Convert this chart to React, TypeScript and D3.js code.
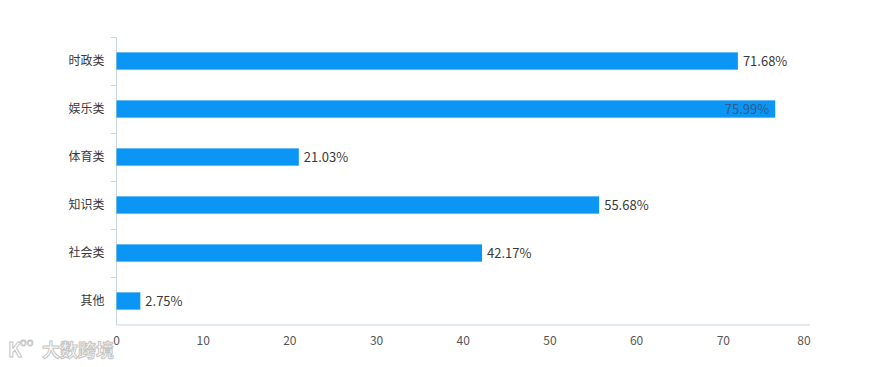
import React from 'react';
import * as d3 from 'd3';

// chart size
const svgWidth = 879;
const svgHeight = 367;
const margin = { top: 37, right: 69, bottom: 42, left: 116.5 };
const barColor = '#0b96f5';
const axisColor = '#c9d7e0';
const textColor = '#3a3a3a';
const font = '"Noto Sans CJK SC", "Noto Sans", sans-serif';

// data
const categories = ['时政类', '娱乐类', '体育类', '知识类', '社会类', '其他'];
const values = [71.68, 75.99, 21.03, 55.68, 42.17, 2.75];
const xTicks = [0, 10, 20, 30, 40, 50, 60, 70, 80];

export default function App() {
  const innerW = svgWidth - margin.left - margin.right;
  const innerH = svgHeight - margin.top - margin.bottom;

  const xScale = d3.scaleLinear().domain([0, 80]).range([0, innerW]);
  const yScale = d3.scaleBand().domain(categories).range([0, innerH]).paddingInner(0.64).paddingOuter(0.32);
  const band = d3.scaleBand().domain(categories).range([0, innerH]);

  return (
    <svg width={svgWidth} height={svgHeight} style={{ position: 'absolute', left: 0, top: 0 }} fontFamily={font}>
      <rect width={svgWidth} height={svgHeight} fill="#fff" />
      <g transform={`translate(${margin.left},${margin.top})`}>
        {/* y axis */}
        <line x1={0} x2={0} y1={0} y2={innerH} stroke={axisColor} />
        {categories.map((c, i) => (
          <line key={'t' + i} x1={-6} x2={0} y1={band(c)! + 0.5} y2={band(c)! + 0.5} stroke={axisColor} />
        ))}
        {/* x axis */}
        <line x1={0} x2={innerW} y1={innerH} y2={innerH} stroke={axisColor} />
        {xTicks.map((t, i) => (
          <text
            key={'x' + i}
            x={i === xTicks.length - 1 ? xScale(t) - 6 : xScale(t)}
            y={innerH + 20}
            textAnchor="middle"
            fontSize={12}
            fill="#555"
          >
            {t}
          </text>
        ))}
        {/* bars */}
        {categories.map((c, i) => {
          const v = values[i];
          const y = yScale(c)!;
          const h = yScale.bandwidth();
          const w = xScale(v);
          const inside = v > 75;
          return (
            <g key={c}>
              <text x={-12} y={band(c)! + band.bandwidth() / 2 + 4} textAnchor="end" fontSize={12} fill={textColor}>
                {c}
              </text>
              <rect x={0} y={y} width={w} height={h} fill={barColor} />
              <text
                x={inside ? w - 6 : w + 5}
                y={y + h / 2 + 5}
                textAnchor={inside ? 'end' : 'start'}
                fontSize={13}
                fill={inside ? '#2f5d86' : textColor}
              >
                {v.toFixed(2)}%
              </text>
            </g>
          );
        })}
      </g>
      {/* watermark */}
      <g opacity={0.85}>
        <text x={8} y={357} fontSize={20} fontWeight="bold" fill="#fff" stroke="#bbb" strokeWidth={1}>
          K
        </text>
        <text x={20} y={346} fontSize={11} fill="#fff" stroke="#bbb" strokeWidth={0.8}>
          oo
        </text>
        <text x={42} y={357} fontSize={18} fontWeight="bold" fill="#fff" stroke="#bbb" strokeWidth={1}>
          大数跨境
        </text>
      </g>
    </svg>
  );
}
